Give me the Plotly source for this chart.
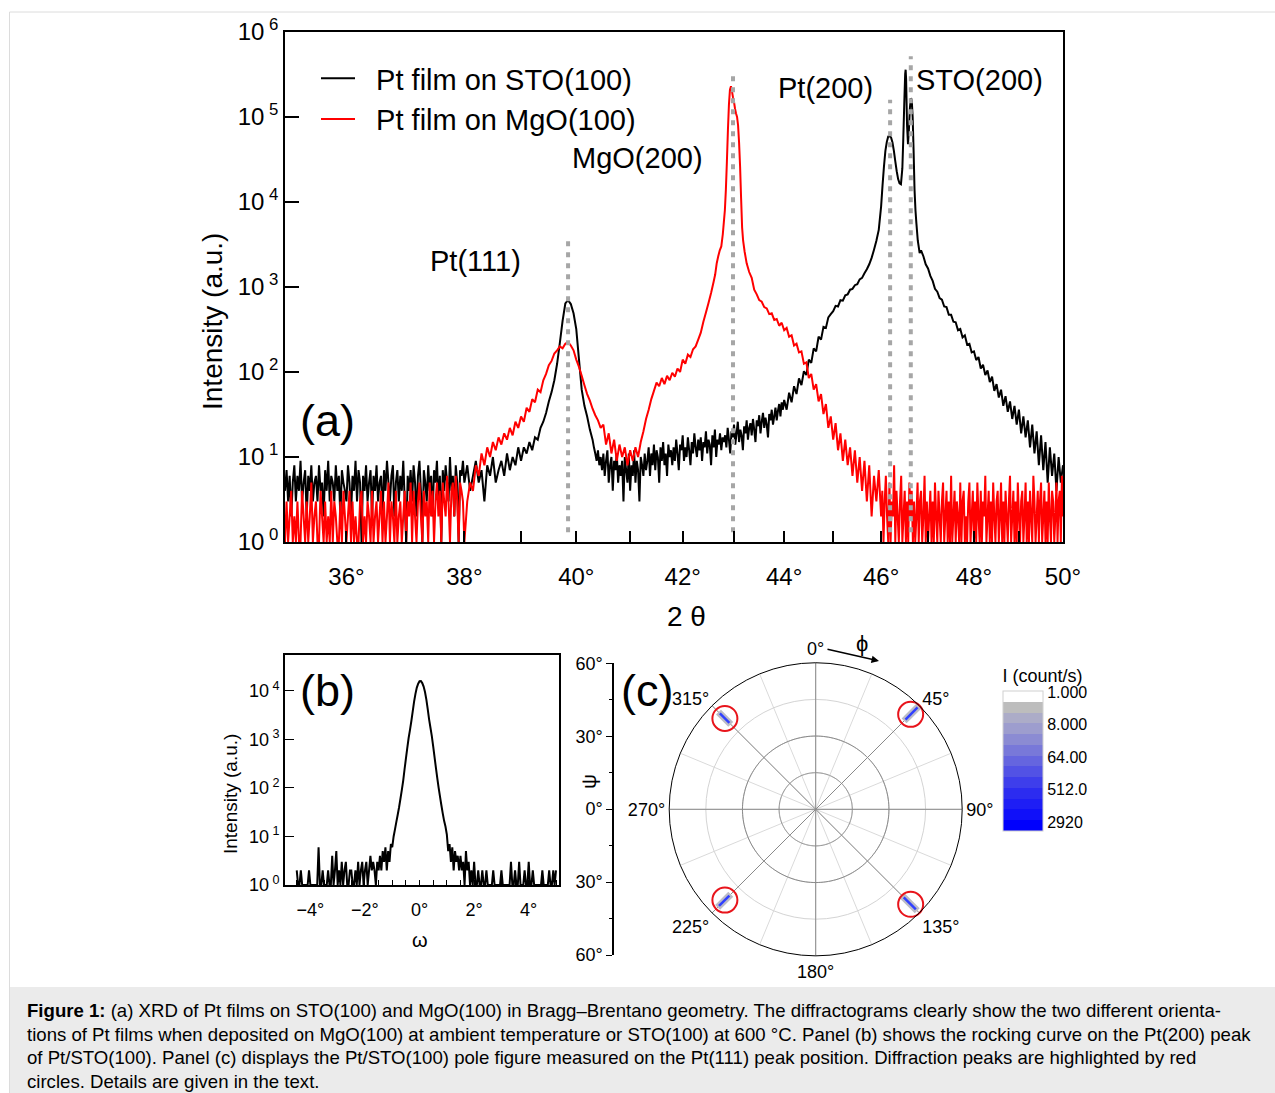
import numpy as np
import plotly.graph_objects as go

FONT = "Liberation Sans, Arial, sans-serif"
W, H = 1275, 1093


def px(x):
    return x / W


def py(y):
    return 1 - y / H


# ---------------- (a) XRD data (counts) ----------------
# Pt film on STO(100)
sto_floor_left_start, sto_floor_left_step = 35.000, 0.025   # 35.000 ... 37.975
sto_floor_left = [
    4, 7, 3, 6, 2, 5, 8, 3, 6, 4, 9, 3, 5, 7, 2, 6, 4, 8, 3, 5,
    6, 3, 8, 4, 5, 2, 7, 4, 9, 3, 6, 5, 3, 8, 4, 6, 2, 7, 5, 4,
    3, 8, 5, 2, 6, 4, 9, 3, 7, 5, 1, 6, 4, 8, 3, 5, 7, 2, 6, 4,
    8, 3, 5, 6, 2, 7, 4, 9, 5, 3, 6, 8, 2, 5, 7, 3, 6, 4, 9, 3,
    1, 6, 4, 7, 3, 8, 5, 2, 6, 9, 4, 1, 7, 5, 3, 8, 4, 6, 2, 7,
    5, 9, 3, 6, 1, 7, 4, 8, 5, 3, 10, 4, 6, 2, 8, 5, 1, 7, 6, 9,
]
sto_rise_start, sto_rise_step = 38.00, 0.05   # 38.00 ... 40.30
sto_rise = [
    5, 8, 4, 6, 9, 5, 7, 3, 8, 6, 10, 5, 7, 9, 6, 11, 7, 10, 8, 13,
    9, 13, 11, 15, 12, 17, 16, 22, 26, 33, 45, 58, 80, 125, 220, 400, 640, 700, 630, 490,
    320, 140, 62, 40, 30, 21, 16,
]
sto_mid_start, sto_mid_step = 40.325, 0.025   # 40.325 ... 44.000
sto_mid = [
    13, 11, 9, 12, 8, 10, 7, 11, 6, 9, 12, 5, 8, 10, 4, 9, 7, 11, 5, 8,
    6, 9, 3, 10, 7, 5, 11, 4, 8, 6, 12, 5, 9, 7, 3, 10, 8, 6, 11, 7,
    9, 13, 6, 11, 8, 14, 7, 12, 10, 5, 13, 9, 15, 8, 11, 6, 14, 10, 12, 8,
    13, 9, 16, 11, 7, 14, 12, 18, 9, 13, 10, 17, 12, 8, 15, 11, 19, 13, 10, 16,
    12, 17, 9, 15, 13, 20, 11, 16, 14, 8, 18, 13, 21, 10, 16, 14, 19, 12, 17, 15,
    18, 13, 22, 16, 11, 20, 17, 24, 14, 19, 26, 15, 21, 18, 12, 23, 19, 27, 16, 22,
    25, 18, 28, 21, 15, 27, 23, 31, 19, 26, 33, 22, 29, 24, 17, 32, 27, 36, 24, 30,
    38, 27, 35, 42, 30, 44, 36, 47,
]
sto_shoulder_start, sto_shoulder_step = 44.05, 0.05   # 44.05 ... 45.95
sto_shoulder = [
    36, 57, 44, 68, 55, 84, 70, 102, 92, 140, 128, 190, 175, 260, 240, 340, 330, 440, 480,
    520, 600, 590, 700, 690, 800, 820, 930, 950, 1050, 1080, 1230, 1280, 1450, 1620, 1850, 2200, 2750, 3500, 4700,
]
sto_peak_tt = [46.00, 46.03, 46.06, 46.09, 46.12, 46.15, 46.18, 46.21, 46.24, 46.27,
               46.30, 46.33, 46.36, 46.39, 46.42, 46.45, 46.47, 46.49, 46.51, 46.52,
               46.53, 46.55, 46.57, 46.59, 46.61, 46.63, 46.65, 46.67, 46.69, 46.71,
               46.73, 46.75, 46.78, 46.82]
sto_peak_counts = [8900, 15800, 26300, 40000, 51000, 59000, 60000, 57500, 50000, 40000,
                   30000, 23000, 18600, 16600, 16200, 25000, 56000, 140000, 320000, 360000,
                   280000, 80000, 48000, 71000, 126000, 166000, 158000, 100000, 40000, 14000,
                   8000, 5600, 3500, 2500]
sto_tail_start, sto_tail_step = 46.85, 0.05   # 46.85 ... 50.00
sto_tail = [
    2700, 2300, 1850, 1650, 1350, 1180, 950, 880, 740, 710,
    590, 580, 470, 470, 390, 385, 310, 320, 255, 270,
    210, 215, 170, 175, 138, 150, 110, 122, 92, 104,
    76, 88, 60, 72, 50, 62, 40, 52, 34, 45,
    28, 40, 24, 36, 19, 30, 17, 27, 13, 24,
    11, 20, 8, 18, 7, 15, 5, 13, 6, 11,
    4, 10, 5, 8,
]

# Pt film on MgO(100)
mgo_floor_left_start, mgo_floor_left_step = 35.000, 0.025   # 35.000 ... 37.975
mgo_floor_left = [
    1, 3, 1, 2, 4, 1, 2, 1, 3, 1, 1, 4, 2, 1, 3, 1, 2, 5, 1, 2,
    3, 1, 1, 4, 2, 1, 3, 1, 2, 1, 4, 1, 3, 2, 1, 1, 3, 1, 4, 2,
    1, 2, 4, 1, 3, 1, 2, 1, 1, 3, 4, 1, 2, 1, 3, 2, 1, 4, 1, 2,
    3, 1, 2, 4, 1, 3, 1, 2, 5, 1, 3, 2, 1, 4, 1, 2, 3, 1, 2, 4,
    1, 3, 2, 5, 1, 4, 2, 1, 3, 5, 2, 1, 4, 2, 3, 1, 5, 2, 4, 1,
    3, 5, 2, 4, 1, 5, 3, 2, 6, 3, 1, 4, 5, 2, 6, 3, 1, 5, 4, 3,
]
mgo_rise_start, mgo_rise_step = 38.00, 0.05   # 38.00 ... 42.60
mgo_rise = [
    1, 3, 5, 4, 8, 6, 11, 8, 13, 10, 15, 12, 17, 14, 19, 16, 22, 18, 26, 22,
    30, 26, 38, 34, 48, 44, 62, 58, 80, 95, 120, 135, 165, 180, 200, 190, 215, 225, 205, 180,
    140, 115, 90, 70, 55, 46, 37, 31, 27, 22, 24, 14, 19, 11, 16, 9, 14, 10, 13, 8,
    12, 9, 13, 10, 15, 20, 28, 36, 48, 60, 75, 68, 85, 72, 90, 80, 98, 88, 110, 100,
    140, 125, 160, 150, 185, 200, 240, 290, 390, 500, 650, 850, 1150,
]
mgo_peak_tt = [42.63, 42.66, 42.69, 42.72, 42.75, 42.78, 42.80, 42.82, 42.84, 42.86,
               42.88, 42.90, 42.92, 42.94, 42.96, 42.98, 43.00, 43.02, 43.04, 43.06,
               43.08, 43.10, 43.12, 43.14, 43.16, 43.18, 43.21]
mgo_peak_counts = [1400, 1900, 2300, 2700, 3000, 4200, 5800, 8000, 14000, 30000,
                   70000, 140000, 210000, 230000, 200000, 170000, 150000, 125000, 110000, 100000,
                   80000, 50000, 26000, 11000, 5000, 3500, 2600]
mgo_decay_start, mgo_decay_step = 43.25, 0.05   # 43.25 ... 46.00
mgo_decay = [
    1900, 1500, 1280, 930, 820, 700, 670, 580, 560, 480,
    490, 410, 420, 350, 380, 310, 330, 260, 270, 205,
    215, 170, 175, 125, 130, 85, 95, 62, 72, 45,
    55, 32, 42, 22, 30, 16, 25, 12, 19, 9,
    16, 8, 13, 6, 12, 5, 10, 4, 9, 3,
    8, 2, 6, 3, 7, 2,
]
mgo_floor_right_start, mgo_floor_right_step = 46.025, 0.025   # 46.025 ... 50.000
mgo_floor_right = [
    4, 1, 3, 6, 2, 1, 5, 1, 3, 2, 8, 1, 4, 2, 1, 3, 6, 1, 2, 4,
    1, 3, 1, 5, 2, 4, 1, 3, 1, 2, 5, 1, 3, 4, 1, 2, 6, 1, 3, 1,
    2, 4, 1, 3, 1, 5, 2, 1, 4, 2, 1, 3, 5, 1, 2, 4, 1, 3, 1, 6,
    1, 2, 4, 1, 3, 2, 1, 5, 1, 3, 4, 1, 2, 1, 3, 5, 1, 2, 4, 1,
    3, 1, 5, 2, 1, 4, 1, 3, 2, 6, 1, 2, 4, 1, 3, 1, 5, 2, 1, 3,
    4, 1, 2, 5, 1, 3, 1, 4, 2, 1, 3, 6, 1, 2, 4, 1, 3, 1, 5, 2,
    1, 3, 4, 1, 2, 5, 1, 3, 1, 4, 2, 1, 6, 3, 1, 2, 4, 1, 3, 5,
    1, 2, 4, 1, 3, 1, 5, 2, 1, 4, 3, 1, 2, 5, 1, 3, 4, 1, 6, 2,
]

ref_names = ["Pt(111)", "MgO(200)", "Pt(200)", "STO(200)"]
ref_tt = [39.85, 42.98, 46.19, 46.63]
ref_top = [3800, 3.5e5, 1.6e5, 5.2e5]
ref_bottom = 1.3

tt_ticks = list(range(36, 51))
decade_ticks_a = [0, 1, 2, 3, 4, 5, 6]

# ---------------- (b) rocking curve ----------------
omega_start, omega_step = -4.50, 0.05  # -4.50 ... 5.00
rock_counts = [
    2, 1, 1, 2, 1, 1, 1, 1, 1, 2, 1, 1, 1, 1, 1, 1, 6, 1, 1, 2,
    1, 1, 1, 2, 1, 1, 4, 1, 2, 5, 1, 2, 1, 3, 1, 2, 3, 1, 1, 2,
    2, 1, 1, 2, 1, 3, 1, 2, 3, 1, 2, 3, 1, 2, 4, 2, 3, 2, 1, 3,
    2, 4, 2, 5, 3, 6, 2, 5, 3, 7, 6, 10, 14, 20, 28, 40, 60, 90, 140, 240,
    400, 660, 1070, 1580, 2400, 3800, 6000, 8700, 11700, 14100, 15800, 15900, 14500, 12300, 9500, 6600, 4200, 2600, 1740, 1170,
    720, 430, 260, 160, 100, 66, 44, 30, 21, 16, 11, 5, 7, 3, 6, 2, 5, 3, 4, 2,
    4, 2, 3, 1, 5, 2, 3, 1, 2, 1, 3, 1, 1, 2, 1, 1, 2, 1, 1, 2,
    1, 1, 1, 1, 2, 1, 1, 1, 1, 1, 2, 1, 1, 1, 1, 1, 1, 3, 1, 1,
    2, 1, 1, 3, 1, 1, 1, 2, 1, 1, 3, 1, 1, 2, 1, 1, 1, 1, 1, 1,
    2, 1, 1, 1, 1, 2, 1, 1, 2, 1, 2,
]
omega_ticks = [-4, -2, 0, 2, 4]
decade_ticks_b = [0, 1, 2, 3, 4]

# ---------------- (c) pole figure ----------------
spot_phi = [45, 135, 225, 315]
spot_psi_lo = [52, 51, 50, 50]
spot_psi_hi = [59, 58, 56, 55.5]
circle_psi = [55, 55, 52.6, 52.6]
phi_labels = [0, 45, 90, 135, 180, 225, 270, 315]
psi_ticks = [-60, -30, 0, 30, 60]
cbar_labels = ["1.000", "8.000", "64.00", "512.0", "2920"]


# ---------------- build ----------------
def seg(start, step, vals):
    return np.round(start + step * np.arange(len(vals)), 4)


sto_x = np.concatenate([
    seg(sto_floor_left_start, sto_floor_left_step, sto_floor_left),
    seg(sto_rise_start, sto_rise_step, sto_rise),
    seg(sto_mid_start, sto_mid_step, sto_mid),
    seg(sto_shoulder_start, sto_shoulder_step, sto_shoulder),
    sto_peak_tt,
    seg(sto_tail_start, sto_tail_step, sto_tail),
])
sto_y = np.concatenate([sto_floor_left, sto_rise, sto_mid, sto_shoulder,
                        sto_peak_counts, sto_tail])
mgo_x = np.concatenate([
    seg(mgo_floor_left_start, mgo_floor_left_step, mgo_floor_left),
    seg(mgo_rise_start, mgo_rise_step, mgo_rise),
    mgo_peak_tt,
    seg(mgo_decay_start, mgo_decay_step, mgo_decay),
    seg(mgo_floor_right_start, mgo_floor_right_step, mgo_floor_right),
])
mgo_y = np.concatenate([mgo_floor_left, mgo_rise, mgo_peak_counts, mgo_decay,
                        mgo_floor_right])

fig = go.Figure()

NB = "\u00a0\u00a0"
fig.add_trace(go.Scatter(x=sto_x, y=sto_y, mode="lines", name=NB + "Pt film on STO(100)",
                         line=dict(color="black", width=2, simplify=False),
                         xaxis="x", yaxis="y"))
fig.add_trace(go.Scatter(x=mgo_x, y=mgo_y, mode="lines", name=NB + "Pt film on MgO(100)",
                         line=dict(color="#ff0000", width=2, simplify=False),
                         xaxis="x", yaxis="y"))
for t, top in zip(ref_tt, ref_top):
    fig.add_trace(go.Scatter(x=[t, t], y=[ref_bottom, top], mode="lines", showlegend=False,
                             line=dict(color="#a6a6a6", width=4, dash="5px,6px"),
                             xaxis="x", yaxis="y", hoverinfo="skip"))

# (b)
omega = seg(omega_start, omega_step, rock_counts)
fig.add_trace(go.Scatter(x=omega, y=rock_counts, mode="lines", showlegend=False,
                         line=dict(color="black", width=2, simplify=False),
                         xaxis="x2", yaxis="y2"))

# (c) polar grid emphasis
ring_theta = np.linspace(0, 360, 181)
for rr, col in [(15, "#9a9a9a"), (30, "#8a8a8a")]:
    fig.add_trace(go.Scatterpolar(r=[rr] * len(ring_theta), theta=ring_theta, mode="lines",
                                  line=dict(color=col, width=1), showlegend=False,
                                  hoverinfo="skip", subplot="polar"))
for a in [0, 45, 90, 135]:
    fig.add_trace(go.Scatterpolar(r=[60, 60], theta=[a, a + 180], mode="lines",
                                  line=dict(color="#8a8a8a", width=1), showlegend=False,
                                  hoverinfo="skip", subplot="polar"))
for ph, lo, hi in zip(spot_phi, spot_psi_lo, spot_psi_hi):
    fig.add_trace(go.Scatterpolar(r=[lo - 0.8, hi + 0.8], theta=[ph, ph], mode="lines",
                                  line=dict(color="#bcbcc6", width=7), showlegend=False,
                                  hoverinfo="skip", subplot="polar"))
    fig.add_trace(go.Scatterpolar(r=[lo, hi], theta=[ph, ph], mode="lines",
                                  line=dict(color="#3040ff", width=2.5), showlegend=False,
                                  hoverinfo="skip", subplot="polar"))
fig.add_trace(go.Scatterpolar(r=circle_psi, theta=spot_phi, mode="markers",
                              marker=dict(symbol="circle-open", size=25, color="#e8141b",
                                          line=dict(width=2, color="#e8141b")),
                              showlegend=False, hoverinfo="skip", subplot="polar"))

# colorbar carrier (invisible point)
band_colors = ["#ffffff", "#bdbdbd", "#acacc8", "#9d9dce", "#8b8bd3", "#7878d9", "#6565df",
               "#5252e5", "#3e3eeb", "#2c2cf0", "#1e1ef5", "#1010f9", "#0000fd"]
band_colors = band_colors[::-1]  # bottom (blue) -> top (white)
n = len(band_colors)
cscale = []
for k, c in enumerate(band_colors):
    cscale.append([k / n, c])
    cscale.append([(k + 1) / n, c])
fig.add_trace(go.Scatter(x=[0], y=[0], mode="markers", showlegend=False, hoverinfo="skip",
                         xaxis="x3", yaxis="y3",
                         marker=dict(size=1, opacity=0, color=[0], colorscale=cscale,
                                     cmin=-0.25, cmax=4.05, showscale=True,
                                     colorbar=dict(
                                         x=px(1003), xanchor="left", y=py(665.5), yanchor="top",
                                         len=165, lenmode="pixels", thickness=40,
                                         thicknessmode="pixels", xpad=0, ypad=0,
                                         outlinewidth=1, outlinecolor="#d0d0d0",
                                         tickvals=[4, 3, 2, 1, 0], ticktext=cbar_labels,
                                         ticks="",
                                         tickfont=dict(family=FONT, size=16, color="black"),
                                         title=dict(text="I (count/s)", side="top",
                                                    font=dict(family=FONT, size=18, color="black")),
                                     ))))

axis_common = dict(showline=True, linecolor="black", linewidth=1.5, mirror=True,
                   showgrid=False, zeroline=False, automargin=False)

fig.update_layout(
    template="none",
    width=W, height=H, autosize=False,
    margin=dict(l=0, r=0, t=0, b=0, pad=0, autoexpand=False),
    paper_bgcolor="white", plot_bgcolor="white",
    font=dict(family=FONT, color="black"),
    hovermode=False,
    xaxis=dict(domain=[px(285), px(1063)], type="log",
               range=[np.log10(35), np.log10(50)],
               tickvals=tt_ticks,
               ticktext=[f"{v}°" if v % 2 == 0 else "" for v in tt_ticks],
               ticks="inside", ticklen=11, tickwidth=1.5, tickcolor="black",
               ticklabelstandoff=12,
               tickfont=dict(size=24), anchor="y", **axis_common),
    yaxis=dict(domain=[py(542), py(32)], type="log", range=[0, 6],
               tickvals=[10 ** d for d in decade_ticks_a],
               ticktext=[f"10<sup> {d}</sup>" for d in decade_ticks_a],
               ticks="inside", ticklen=14, tickwidth=1.5, tickcolor="black",
               tickfont=dict(size=24), anchor="x", **axis_common),
    xaxis2=dict(domain=[px(285), px(559)], range=[-4.93, 5.11],
                tickvals=omega_ticks,
                ticktext=[("−" if v < 0 else "") + f"{abs(v)}°" for v in omega_ticks],
                ticks="inside", ticklen=5, tickwidth=1, tickcolor="black",
                ticklabelstandoff=8,
                tickfont=dict(size=18), anchor="y2",
                minor=dict(dtick=0.5, ticks="inside", ticklen=5, tickcolor="black"),
                **axis_common),
    yaxis2=dict(domain=[py(885), py(655)], type="log", range=[0, 4.74],
                tickvals=[10 ** d for d in decade_ticks_b],
                ticktext=[f"10<sup> {d}</sup>" for d in decade_ticks_b],
                ticks="inside", ticklen=9, tickwidth=1.2, tickcolor="black",
                tickfont=dict(size=18), anchor="x2", **axis_common),
    xaxis3=dict(domain=[px(614), px(616)], visible=False, range=[0, 1], anchor="y3",
                automargin=False),
    yaxis3=dict(domain=[py(955), py(663.3)], range=[-60, 60], anchor="x3", side="left",
                tickvals=psi_ticks, ticktext=[f"{abs(v)}°" for v in psi_ticks],
                ticks="outside", ticklen=6, tickwidth=1.2, tickcolor="black",
                minor=dict(dtick=15, ticks="outside", ticklen=3, tickcolor="black"),
                showline=True, linecolor="black", linewidth=1.5, showgrid=False,
                zeroline=False, tickfont=dict(size=18), automargin=False),
    polar=dict(
        domain=dict(x=[px(669.2), px(962.2)], y=[py(955.8), py(662.8)]),
        bgcolor="rgba(0,0,0,0)",
        radialaxis=dict(range=[0, 60], tickvals=[15, 30, 45], showticklabels=False,
                        ticks="", showline=False, gridcolor="#d4d4d4", gridwidth=1),
        angularaxis=dict(rotation=90, direction="clockwise",
                         tickvals=[i * 22.5 for i in range(16)],
                         ticktext=[f"{int(i * 22.5)}°" if int(i * 22.5) in phi_labels and i % 2 == 0 else ""
                                   for i in range(16)],
                         ticks="", showline=True, linecolor="black", linewidth=1,
                         gridcolor="#dadada", gridwidth=1,
                         tickfont=dict(size=18, color="black")),
    ),
    legend=dict(x=px(316), y=py(53), xanchor="left", yanchor="top",
                font=dict(size=29, family=FONT), bgcolor="rgba(0,0,0,0)",
                itemwidth=34, tracegroupgap=0, borderwidth=0),
)

ann = []


def text(x, y, s, size, angle=0, xanchor="center", **kw):
    ann.append(dict(x=px(x), y=py(y), xref="paper", yref="paper", text=s, showarrow=False,
                    font=dict(family=FONT, size=size, color="black"), textangle=angle,
                    xanchor=xanchor, yanchor="middle", **kw))


# panel (a)
text(212, 321, "Intensity (a.u.)", 28, angle=-90)
text(686, 617, "2 θ", 28)
text(327, 420, "(a)", 45)
for name, (lx, ly) in zip(ref_names, [(475, 261), (637, 158), (825, 88), (979, 80)]):
    text(lx, ly, name, 29)
# panel (b)
text(230, 794, "Intensity (a.u.)", 19, angle=-90)
text(420, 940, "ω", 20)
text(327, 690, "(b)", 45)
# panel (c)
text(647, 690, "(c)", 45)
text(588, 782, "ψ", 21, angle=-90)
text(862, 643, "ϕ", 22)
ann.append(dict(x=px(879), y=py(661), xref="paper", yref="paper", ax=-53, ay=-12,
                axref="pixel", ayref="pixel", text="", showarrow=True, arrowhead=2,
                arrowsize=1, arrowwidth=1.5, arrowcolor="black"))
# caption
cap_lines = [
    "<b>Figure 1:</b> (a) XRD of Pt films on STO(100) and MgO(100) in Bragg–Brentano geometry. The diffractograms clearly show the two different orienta-",
    "tions of Pt films when deposited on MgO(100) at ambient temperature or STO(100) at 600 °C. Panel (b) shows the rocking curve on the Pt(200) peak",
    "of Pt/STO(100). Panel (c) displays the Pt/STO(100) pole figure measured on the Pt(111) peak position. Diffraction peaks are highlighted by red",
    "circles. Details are given in the text.",
]
for s, yy in zip(cap_lines, [1010, 1034, 1057, 1081]):
    text(25, yy, s, 18.6, xanchor="left")

fig.update_layout(annotations=ann)
fig.update_layout(shapes=[
    dict(type="rect", xref="paper", yref="paper", x0=px(10), x1=1.02, y0=-0.02, y1=py(987),
         fillcolor="#ebebeb", line=dict(width=0), layer="below"),
    dict(type="rect", xref="paper", yref="paper", x0=px(9.5), x1=1.05, y0=-0.05, y1=py(12),
         fillcolor="rgba(0,0,0,0)", line=dict(color="#dcdcdc", width=1), layer="below"),
])

fig.write_html("out.html", config={"displayModeBar": False})
